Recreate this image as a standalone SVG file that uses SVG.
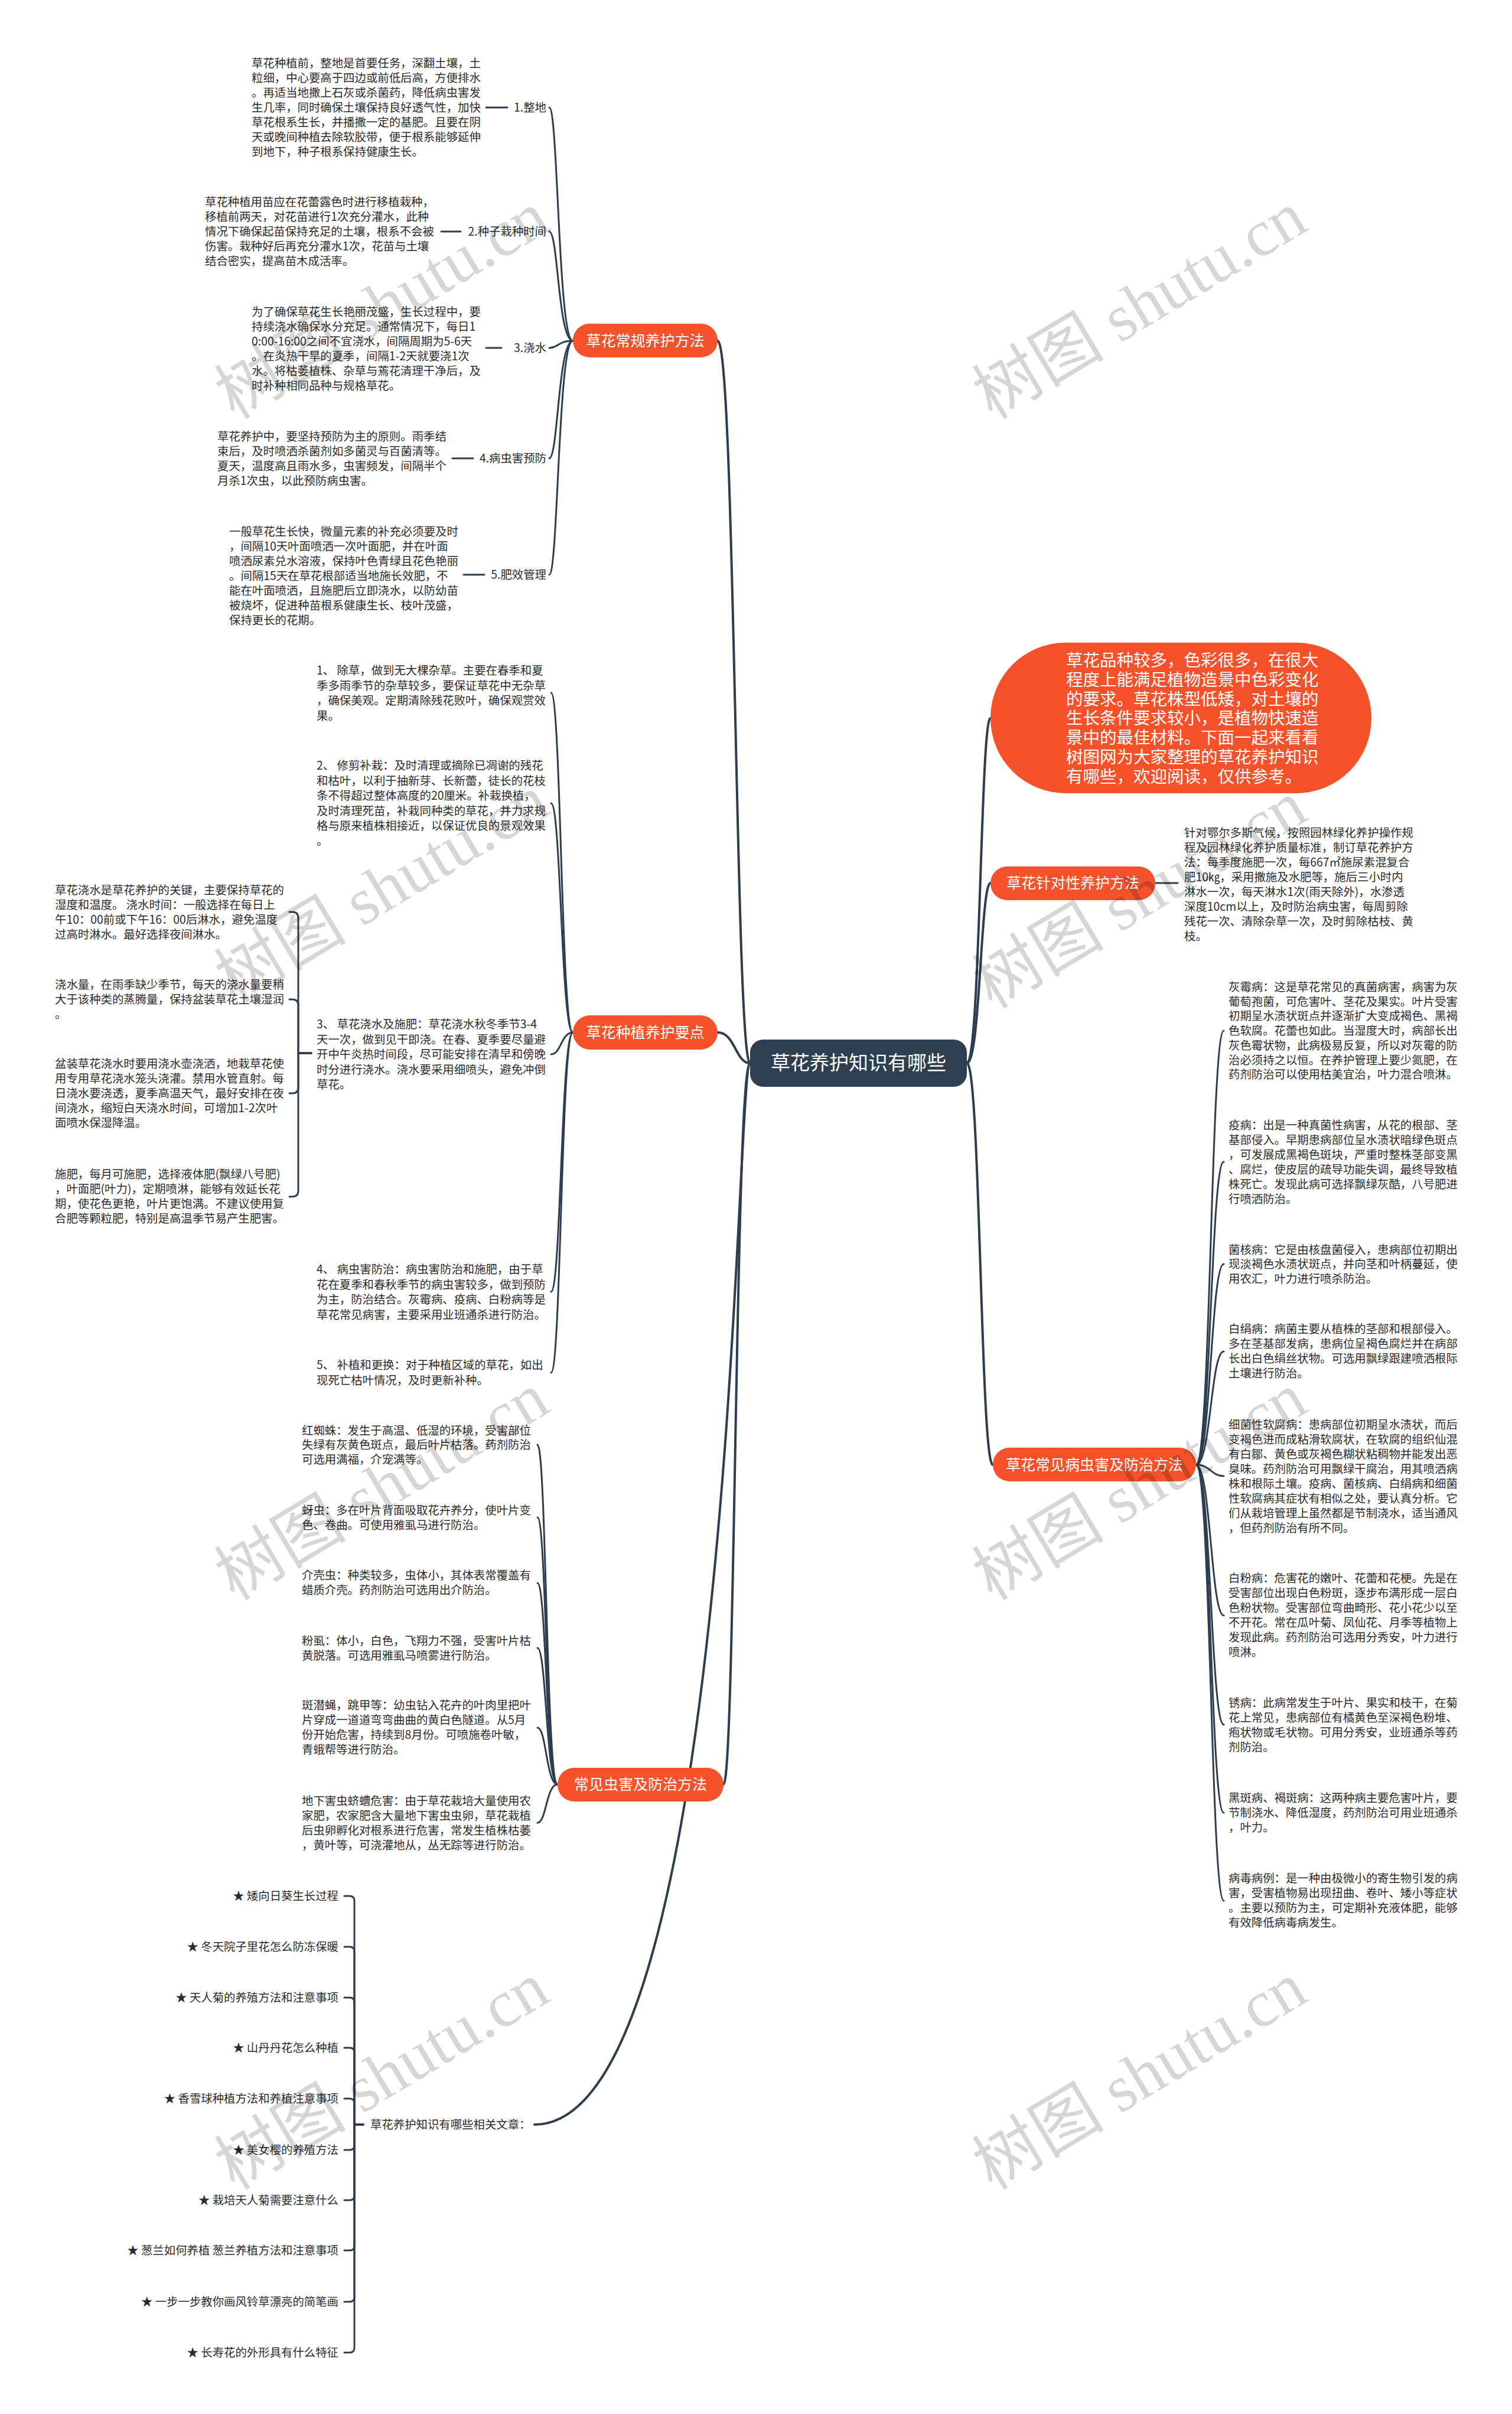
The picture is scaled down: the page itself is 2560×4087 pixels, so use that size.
<svg xmlns="http://www.w3.org/2000/svg" width="2560" height="4087" viewBox="0 0 2560 4087">
<style>
.bg{fill:#ffffff}
.t{font-family:"Noto Sans CJK SC","Noto Sans",sans-serif;font-size:19.4px;fill:#2b2b2b}
.lb{font-family:"Noto Sans CJK SC","Noto Sans",sans-serif;font-size:19.4px;fill:#2b2b2b;text-anchor:end}
.nt{font-family:"Noto Sans CJK SC","Noto Sans",sans-serif;font-size:25px;fill:#ffffff;text-anchor:middle}
.ct{font-family:"Noto Sans CJK SC","Noto Sans",sans-serif;font-size:33px;fill:#ffffff;text-anchor:middle}
.it{font-family:"Noto Sans CJK SC","Noto Sans",sans-serif;font-size:28.5px;fill:#ffffff}
.on{fill:#f5522c}
.cn{fill:#2f3f4f}
.c{fill:none;stroke:#2c3e50;stroke-width:3;stroke-linecap:round}
.cm{fill:none;stroke:#2c3e50;stroke-width:4;stroke-linecap:round}
.wm{font-family:"Liberation Serif","Noto Sans CJK SC",serif;font-size:112px;fill:#000;fill-opacity:0.16;text-anchor:middle}
</style>
<rect class="bg" x="0" y="0" width="2560" height="4087"/>

<g id="connectors">
  <path class="cm" d="M1270 1800 C1245 1800 1245 577 1215 577"/>
  <path class="cm" d="M1270 1800 C1245 1800 1245 1748 1215 1748"/>
  <path class="cm" d="M1270 1800 C1245 1800 1245 3021 1225 3021"/>
  <path class="cm" d="M1270 1800 C1245 1800 1245 3597 905 3597"/>
  <path class="cm" d="M1637 1800 C1660 1800 1660 1216 1677 1216"/>
  <path class="cm" d="M1637 1800 C1660 1800 1660 1495 1677 1495"/>
  <path class="cm" d="M1637 1800 C1660 1800 1660 2480 1681 2480"/>
  <path class="c" d="M970 577 C945 577 945 182 930 182"/>
  <path class="c" d="M970 577 C945 577 945 392 930 392"/>
  <path class="c" d="M970 577 C945 577 945 589 930 589"/>
  <path class="c" d="M970 577 C945 577 945 776 930 776"/>
  <path class="c" d="M970 577 C945 577 945 973 930 973"/>
  <path class="c" d="M823 182 H859"/>
  <path class="c" d="M747 392 H780"/>
  <path class="c" d="M823 589 H849"/>
  <path class="c" d="M766 776 H801"/>
  <path class="c" d="M785 973 H820"/>
  <path class="c" d="M970 1748 C950 1748 950 1173 933 1173"/>
  <path class="c" d="M970 1748 C950 1748 950 1360 933 1360"/>
  <path class="c" d="M970 1748 C950 1748 950 1785 933 1785"/>
  <path class="c" d="M970 1748 C950 1748 950 2187 933 2187"/>
  <path class="c" d="M970 1748 C950 1748 950 2324 933 2324"/>
  <path class="c" d="M527 1783 H505 V1554 Q505 1544 495 1544 H490"/>
  <path class="c" d="M527 1783 H505 V1702 Q505 1692 495 1692 H490"/>
  <path class="c" d="M527 1783 H505 V1841 Q505 1851 495 1851 H490"/>
  <path class="c" d="M527 1783 H505 V2016 Q505 2026 495 2026 H490"/>
  <path class="c" d="M944 3021 C925 3021 925 2446 910 2446"/>
  <path class="c" d="M944 3021 C925 3021 925 2569 910 2569"/>
  <path class="c" d="M944 3021 C925 3021 925 2680 910 2680"/>
  <path class="c" d="M944 3021 C925 3021 925 2790 910 2790"/>
  <path class="c" d="M944 3021 C925 3021 925 2925 910 2925"/>
  <path class="c" d="M944 3021 C925 3021 925 3086 910 3086"/>
  <path class="c" d="M615 3597 H600 V3218 Q600 3210 592 3210 H583"/>
  <path class="c" d="M615 3597 H600 V3304 Q600 3296 592 3296 H583"/>
  <path class="c" d="M615 3597 H600 V3390 Q600 3382 592 3382 H583"/>
  <path class="c" d="M615 3597 H600 V3475 Q600 3467 592 3467 H583"/>
  <path class="c" d="M615 3597 H600 V3561 Q600 3553 592 3553 H583"/>
  <path class="c" d="M615 3597 H600 V3632 Q600 3640 592 3640 H583"/>
  <path class="c" d="M615 3597 H600 V3717 Q600 3725 592 3725 H583"/>
  <path class="c" d="M615 3597 H600 V3802 Q600 3810 592 3810 H583"/>
  <path class="c" d="M615 3597 H600 V3889 Q600 3897 592 3897 H583"/>
  <path class="c" d="M615 3597 H600 V3975 Q600 3983 592 3983 H583"/>
  <path class="c" d="M1956 1495 H1994"/>
  <path class="c" d="M2025 2480 C2050 2480 2050 1745 2072 1745"/>
  <path class="c" d="M2025 2480 C2050 2480 2050 1967 2072 1967"/>
  <path class="c" d="M2025 2480 C2050 2480 2050 2140 2072 2140"/>
  <path class="c" d="M2025 2480 C2050 2480 2050 2288 2072 2288"/>
  <path class="c" d="M2025 2480 C2050 2480 2050 2499 2072 2499"/>
  <path class="c" d="M2025 2480 C2050 2480 2050 2735 2072 2735"/>
  <path class="c" d="M2025 2480 C2050 2480 2050 2920 2072 2920"/>
  <path class="c" d="M2025 2480 C2050 2480 2050 3069 2072 3069"/>
  <path class="c" d="M2025 2480 C2050 2480 2050 3218 2072 3218"/>
</g>

<g id="center">
  <rect class="cn" x="1270" y="1760" width="367" height="80" rx="22"/>
  <text class="ct" x="1453.5" y="1811">草花养护知识有哪些</text>
</g>

<g id="intro">
  <rect class="on" x="1677" y="1088" width="645" height="255" rx="127"/>
  <text class="it" x="1805"><tspan x="1805" y="1128">草花品种较多，色彩很多，在很大</tspan><tspan x="1805" y="1161">程度上能满足植物造景中色彩变化</tspan><tspan x="1805" y="1194">的要求。草花株型低矮，对土壤的</tspan><tspan x="1805" y="1226">生长条件要求较小，是植物快速造</tspan><tspan x="1805" y="1259">景中的最佳材料。下面一起来看看</tspan><tspan x="1805" y="1292">树图网为大家整理的草花养护知识</tspan><tspan x="1805" y="1325">有哪些，欢迎阅读，仅供参考。</tspan></text>
</g>

<g id="b1">
  <rect class="on" x="970" y="548" width="245" height="57" rx="28"/>
  <text class="nt" x="1092.5" y="586">草花常规养护方法</text>
</g>
<g id="b1-1">
  <text class="lb" x="925" y="189">1.整地</text>
  <text class="t"><tspan x="426" y="114">草花种植前，整地是首要任务，深翻土壤，土</tspan><tspan x="426" y="139">粒细，中心要高于四边或前低后高，方便排水</tspan><tspan x="426" y="164">。再适当地撒上石灰或杀菌药，降低病虫害发</tspan><tspan x="426" y="189">生几率，同时确保土壤保持良好透气性，加快</tspan><tspan x="426" y="214">草花根系生长，并播撒一定的基肥。且要在阴</tspan><tspan x="426" y="239">天或晚间种植去除软胶带，便于根系能够延伸</tspan><tspan x="426" y="264">到地下，种子根系保持健康生长。</tspan></text>
</g>
<g id="b1-2">
  <text class="lb" x="925" y="399">2.种子栽种时间</text>
  <text class="t"><tspan x="347" y="349">草花种植用苗应在花蕾露色时进行移植栽种，</tspan><tspan x="347" y="374">移植前两天，对花苗进行1次充分灌水，此种</tspan><tspan x="347" y="399">情况下确保起苗保持充足的土壤，根系不会被</tspan><tspan x="347" y="424">伤害。栽种好后再充分灌水1次，花苗与土壤</tspan><tspan x="347" y="449">结合密实，提高苗木成活率。</tspan></text>
</g>
<g id="b1-3">
  <text class="lb" x="925" y="596">3.浇水</text>
  <text class="t"><tspan x="426" y="535">为了确保草花生长艳丽茂盛，生长过程中，要</tspan><tspan x="426" y="560">持续浇水确保水分充足。通常情况下，每日1</tspan><tspan x="426" y="585">0:00-16:00之间不宜浇水，间隔周期为5-6天</tspan><tspan x="426" y="610">。在炎热干旱的夏季，间隔1-2天就要浇1次</tspan><tspan x="426" y="635">水。将枯萎植株、杂草与蔫花清理干净后，及</tspan><tspan x="426" y="660">时补种相同品种与规格草花。</tspan></text>
</g>
<g id="b1-4">
  <text class="lb" x="925" y="783">4.病虫害预防</text>
  <text class="t"><tspan x="368" y="746">草花养护中，要坚持预防为主的原则。雨季结</tspan><tspan x="368" y="771">束后，及时喷洒杀菌剂如多菌灵与百菌清等。</tspan><tspan x="368" y="796">夏天，温度高且雨水多，虫害频发，间隔半个</tspan><tspan x="368" y="821">月杀1次虫，以此预防病虫害。</tspan></text>
</g>
<g id="b1-5">
  <text class="lb" x="925" y="980">5.肥效管理</text>
  <text class="t"><tspan x="388" y="907">一般草花生长快，微量元素的补充必须要及时</tspan><tspan x="388" y="932">，间隔10天叶面喷洒一次叶面肥，并在叶面</tspan><tspan x="388" y="957">喷洒尿素兑水溶液，保持叶色青绿且花色艳丽</tspan><tspan x="388" y="982">。间隔15天在草花根部适当地施长效肥，不</tspan><tspan x="388" y="1007">能在叶面喷洒，且施肥后立即浇水，以防幼苗</tspan><tspan x="388" y="1032">被烧坏，促进种苗根系健康生长、枝叶茂盛，</tspan><tspan x="388" y="1057">保持更长的花期。</tspan></text>
</g>

<g id="b2">
  <rect class="on" x="970" y="1719" width="245" height="58" rx="29"/>
  <text class="nt" x="1092.5" y="1757">草花种植养护要点</text>
</g>
<g id="b2-1">
  <text class="t"><tspan x="536" y="1142">1、 除草，做到无大棵杂草。主要在春季和夏</tspan><tspan x="536" y="1167.5">季多雨季节的杂草较多，要保证草花中无杂草</tspan><tspan x="536" y="1193">，确保美观。定期清除残花败叶，确保观赏效</tspan><tspan x="536" y="1218.5">果。</tspan></text>
</g>
<g id="b2-2">
  <text class="t"><tspan x="536" y="1303">2、 修剪补栽：及时清理或摘除已凋谢的残花</tspan><tspan x="536" y="1328.5">和枯叶，以利于抽新芽、长新蕾，徒长的花枝</tspan><tspan x="536" y="1354">条不得超过整体高度的20厘米。补栽换植，</tspan><tspan x="536" y="1379.5">及时清理死苗，补栽同种类的草花，并力求规</tspan><tspan x="536" y="1405">格与原来植株相接近，以保证优良的景观效果</tspan><tspan x="536" y="1430.5">。</tspan></text>
</g>
<g id="b2-3">
  <text class="t"><tspan x="536" y="1741">3、 草花浇水及施肥：草花浇水秋冬季节3-4</tspan><tspan x="536" y="1766.5">天一次，做到见干即浇。在春、夏季要尽量避</tspan><tspan x="536" y="1792">开中午炎热时间段，尽可能安排在清早和傍晚</tspan><tspan x="536" y="1817.5">时分进行浇水。浇水要采用细喷头，避免冲倒</tspan><tspan x="536" y="1843">草花。</tspan></text>
</g>
<g id="b2-3-1">
  <text class="t"><tspan x="93" y="1514">草花浇水是草花养护的关键，主要保持草花的</tspan><tspan x="93" y="1539">湿度和温度。 浇水时间：一般选择在每日上</tspan><tspan x="93" y="1564">午10：00前或下午16：00后淋水，避免温度</tspan><tspan x="93" y="1589">过高时淋水。最好选择夜间淋水。</tspan></text>
</g>
<g id="b2-3-2">
  <text class="t"><tspan x="93" y="1674">浇水量，在雨季缺少季节，每天的浇水量要稍</tspan><tspan x="93" y="1699">大于该种类的蒸腾量，保持盆装草花土壤湿润</tspan><tspan x="93" y="1724">。</tspan></text>
</g>
<g id="b2-3-3">
  <text class="t"><tspan x="93" y="1808">盆装草花浇水时要用浇水壶浇洒，地栽草花使</tspan><tspan x="93" y="1833">用专用草花浇水笼头浇灌。禁用水管直射。每</tspan><tspan x="93" y="1858">日浇水要浇透，夏季高温天气，最好安排在夜</tspan><tspan x="93" y="1883">间浇水，缩短白天浇水时间，可增加1-2次叶</tspan><tspan x="93" y="1908">面喷水保湿降温。</tspan></text>
</g>
<g id="b2-3-4">
  <text class="t"><tspan x="93" y="1995">施肥，每月可施肥，选择液体肥(飘绿八号肥)</tspan><tspan x="93" y="2020">，叶面肥(叶力)，定期喷淋，能够有效延长花</tspan><tspan x="93" y="2045">期，使花色更艳，叶片更饱满。不建议使用复</tspan><tspan x="93" y="2070">合肥等颗粒肥，特别是高温季节易产生肥害。</tspan></text>
</g>
<g id="b2-4">
  <text class="t"><tspan x="536" y="2156">4、 病虫害防治：病虫害防治和施肥，由于草</tspan><tspan x="536" y="2181.5">花在夏季和春秋季节的病虫害较多，做到预防</tspan><tspan x="536" y="2207">为主，防治结合。灰霉病、疫病、白粉病等是</tspan><tspan x="536" y="2232.5">草花常见病害，主要采用业班通杀进行防治。</tspan></text>
</g>
<g id="b2-5">
  <text class="t"><tspan x="536" y="2318">5、 补植和更换：对于种植区域的草花，如出</tspan><tspan x="536" y="2343.5">现死亡枯叶情况，及时更新补种。</tspan></text>
</g>

<g id="b3">
  <rect class="on" x="944" y="2993" width="281" height="57" rx="28"/>
  <text class="nt" x="1084.5" y="3030">常见虫害及防治方法</text>
</g>
<g id="b3-1"><text class="t"><tspan x="511" y="2428.5">红蜘蛛：发生于高温、低湿的环境，受害部位</tspan><tspan x="511" y="2453">失绿有灰黄色斑点，最后叶片枯落。药剂防治</tspan><tspan x="511" y="2477.5">可选用满福，介宠满等。</tspan></text></g>
<g id="b3-2"><text class="t"><tspan x="511" y="2564">蚜虫：多在叶片背面吸取花卉养分，使叶片变</tspan><tspan x="511" y="2588.5">色、卷曲。可使用雅虱马进行防治。</tspan></text></g>
<g id="b3-3"><text class="t"><tspan x="511" y="2674">介壳虫：种类较多，虫体小，其体表常覆盖有</tspan><tspan x="511" y="2698.5">蜡质介壳。药剂防治可选用出介防治。</tspan></text></g>
<g id="b3-4"><text class="t"><tspan x="511" y="2785">粉虱：体小，白色，飞翔力不强，受害叶片枯</tspan><tspan x="511" y="2809.5">黄脱落。可选用雅虱马喷雾进行防治。</tspan></text></g>
<g id="b3-5"><text class="t"><tspan x="511" y="2894">斑潜蝇，跳甲等：幼虫钻入花卉的叶肉里把叶</tspan><tspan x="511" y="2919">片穿成一道道弯弯曲曲的黄白色隧道。从5月</tspan><tspan x="511" y="2944">份开始危害，持续到8月份。可喷施卷叶敏，</tspan><tspan x="511" y="2969">青蛾帮等进行防治。</tspan></text></g>
<g id="b3-6"><text class="t"><tspan x="511" y="3056">地下害虫蛴螬危害：由于草花栽培大量使用农</tspan><tspan x="511" y="3081">家肥，农家肥含大量地下害虫虫卵，草花栽植</tspan><tspan x="511" y="3106">后虫卵孵化对根系进行危害，常发生植株枯萎</tspan><tspan x="511" y="3131">，黄叶等，可浇灌地从，丛无踪等进行防治。</tspan></text></g>

<g id="b4">
  <text class="t" x="627" y="3604">草花养护知识有哪些相关文章：</text>
</g>
<g id="b4-items">
  <text class="lb" x="573" y="3217">★ 矮向日葵生长过程</text>
  <text class="lb" x="573" y="3303">★ 冬天院子里花怎么防冻保暖</text>
  <text class="lb" x="573" y="3389">★ 天人菊的养殖方法和注意事项</text>
  <text class="lb" x="573" y="3474">★ 山丹丹花怎么种植</text>
  <text class="lb" x="573" y="3560">★ 香雪球种植方法和养植注意事项</text>
  <text class="lb" x="573" y="3647">★ 美女樱的养殖方法</text>
  <text class="lb" x="573" y="3732">★ 栽培天人菊需要注意什么</text>
  <text class="lb" x="573" y="3817">★ 葱兰如何养植 葱兰养植方法和注意事项</text>
  <text class="lb" x="573" y="3904">★ 一步一步教你画风铃草漂亮的简笔画</text>
  <text class="lb" x="573" y="3990">★ 长寿花的外形具有什么特征</text>
</g>

<g id="b5">
  <rect class="on" x="1677" y="1467" width="279" height="57" rx="28"/>
  <text class="nt" x="1816.5" y="1504">草花针对性养护方法</text>
</g>
<g id="b5-1">
  <text class="t"><tspan x="2005" y="1417">针对鄂尔多斯气候，按照园林绿化养护操作规</tspan><tspan x="2005" y="1442">程及园林绿化养护质量标准，制订草花养护方</tspan><tspan x="2005" y="1467">法：每季度施肥一次，每667㎡施尿素混复合</tspan><tspan x="2005" y="1492">肥10㎏，采用撒施及水肥等，施后三小时内</tspan><tspan x="2005" y="1517">淋水一次，每天淋水1次(雨天除外)，水渗透</tspan><tspan x="2005" y="1542">深度10cm以上，及时防治病虫害，每周剪除</tspan><tspan x="2005" y="1567">残花一次、清除杂草一次，及时剪除枯枝、黄</tspan><tspan x="2005" y="1592">枝。</tspan></text>
</g>

<g id="b6">
  <rect class="on" x="1681" y="2451" width="344" height="57" rx="28"/>
  <text class="nt" x="1853" y="2489">草花常见病虫害及防治方法</text>
</g>
<g id="b6-1"><text class="t"><tspan x="2080" y="1678">灰霉病：这是草花常见的真菌病害，病害为灰</tspan><tspan x="2080" y="1702.7">葡萄孢菌，可危害叶、茎花及果实。叶片受害</tspan><tspan x="2080" y="1727.4">初期呈水渍状斑点并逐渐扩大变成褐色、黑褐</tspan><tspan x="2080" y="1752.1">色软腐。花蕾也如此。当湿度大时，病部长出</tspan><tspan x="2080" y="1776.8">灰色霉状物，此病极易反复，所以对灰霉的防</tspan><tspan x="2080" y="1801.5">治必须持之以恒。在养护管理上要少氮肥，在</tspan><tspan x="2080" y="1826.2">药剂防治可以使用枯美宜治，叶力混合喷淋。</tspan></text></g>
<g id="b6-2"><text class="t"><tspan x="2080" y="1912">疫病：出是一种真菌性病害，从花的根部、茎</tspan><tspan x="2080" y="1937">基部侵入。早期患病部位呈水渍状暗绿色斑点</tspan><tspan x="2080" y="1962">，可发展成黑褐色斑块，严重时整株茎部变黑</tspan><tspan x="2080" y="1987">、腐烂，使皮层的疏导功能失调，最终导致植</tspan><tspan x="2080" y="2012">株死亡。发现此病可选择飘绿灰酷，八号肥进</tspan><tspan x="2080" y="2037">行喷洒防治。</tspan></text></g>
<g id="b6-3"><text class="t"><tspan x="2080" y="2122.5">菌核病：它是由核盘菌侵入，患病部位初期出</tspan><tspan x="2080" y="2147">现淡褐色水渍状斑点，并向茎和叶柄蔓延，使</tspan><tspan x="2080" y="2171.5">用农汇，叶力进行喷杀防治。</tspan></text></g>
<g id="b6-4"><text class="t"><tspan x="2080" y="2257">白绢病：病菌主要从植株的茎部和根部侵入。</tspan><tspan x="2080" y="2282">多在茎基部发病，患病位呈褐色腐烂并在病部</tspan><tspan x="2080" y="2307">长出白色绢丝状物。可选用飘绿跟建喷洒根际</tspan><tspan x="2080" y="2332">土壤进行防治。</tspan></text></g>
<g id="b6-5"><text class="t"><tspan x="2080" y="2419">细菌性软腐病：患病部位初期呈水渍状，而后</tspan><tspan x="2080" y="2444">变褐色进而成粘滑软腐状，在软腐的组织仙混</tspan><tspan x="2080" y="2469">有白鄒、黄色或灰褐色糊状粘稠物并能发出恶</tspan><tspan x="2080" y="2494">臭味。药剂防治可用飘绿干腐治，用其喷洒病</tspan><tspan x="2080" y="2519">株和根际土壤。疫病、菌核病、白绢病和细菌</tspan><tspan x="2080" y="2544">性软腐病其症状有相似之处，要认真分析。它</tspan><tspan x="2080" y="2569">们从栽培管理上虽然都是节制浇水，适当通风</tspan><tspan x="2080" y="2594">，但药剂防治有所不同。</tspan></text></g>
<g id="b6-6"><text class="t"><tspan x="2080" y="2679">白粉病：危害花的嫩叶、花蕾和花梗。先是在</tspan><tspan x="2080" y="2704">受害部位出现白色粉斑，逐步布满形成一层白</tspan><tspan x="2080" y="2729">色粉状物。受害部位弯曲畸形、花小花少以至</tspan><tspan x="2080" y="2754">不开花。常在瓜叶菊、凤仙花、月季等植物上</tspan><tspan x="2080" y="2779">发现此病。药剂防治可选用分秀安，叶力进行</tspan><tspan x="2080" y="2804">喷淋。</tspan></text></g>
<g id="b6-7"><text class="t"><tspan x="2080" y="2890">锈病：此病常发生于叶片、果实和枝干，在菊</tspan><tspan x="2080" y="2915">花上常见，患病部位有橘黄色至深褐色粉堆、</tspan><tspan x="2080" y="2940">疱状物或毛状物。可用分秀安，业班通杀等药</tspan><tspan x="2080" y="2965">剂防治。</tspan></text></g>
<g id="b6-8"><text class="t"><tspan x="2080" y="3051">黑斑病、褐斑病：这两种病主要危害叶片，要</tspan><tspan x="2080" y="3076">节制浇水、降低湿度，药剂防治可用业班通杀</tspan><tspan x="2080" y="3101">，叶力。</tspan></text></g>
<g id="b6-9"><text class="t"><tspan x="2080" y="3187">病毒病例：是一种由极微小的寄生物引发的病</tspan><tspan x="2080" y="3212">害，受害植物易出现扭曲、卷叶、矮小等症状</tspan><tspan x="2080" y="3237">。主要以预防为主，可定期补充液体肥，能够</tspan><tspan x="2080" y="3262">有效降低病毒病发生。</tspan></text></g>

<g id="watermarks">
  <text class="wm" x="646" y="555" transform="rotate(-31 646 516)">树图 shutu.cn</text>
  <text class="wm" x="1929" y="555" transform="rotate(-31 1929 516)">树图 shutu.cn</text>
  <text class="wm" x="646" y="1543" transform="rotate(-31 646 1504)">树图 shutu.cn</text>
  <text class="wm" x="1929" y="1553" transform="rotate(-31 1929 1514)">树图 shutu.cn</text>
  <text class="wm" x="646" y="2555" transform="rotate(-31 646 2516)">树图 shutu.cn</text>
  <text class="wm" x="1929" y="2555" transform="rotate(-31 1929 2516)">树图 shutu.cn</text>
  <text class="wm" x="646" y="3553" transform="rotate(-31 646 3514)">树图 shutu.cn</text>
  <text class="wm" x="1929" y="3553" transform="rotate(-31 1929 3514)">树图 shutu.cn</text>
</g>
</svg>
